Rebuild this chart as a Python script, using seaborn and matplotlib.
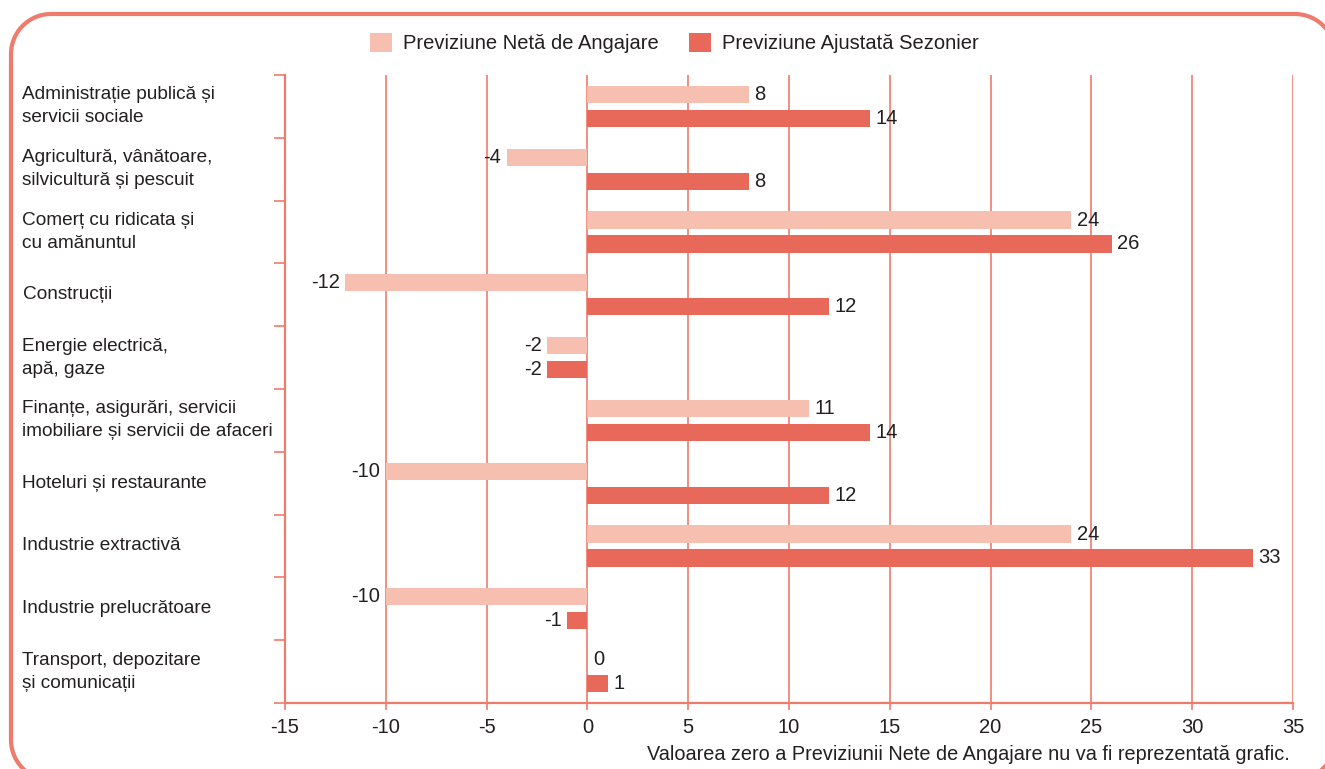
import matplotlib
matplotlib.use("Agg")
import matplotlib.pyplot as plt
from matplotlib.lines import Line2D
from matplotlib.transforms import IdentityTransform
import seaborn as sns
import pandas as pd
import numpy as np

# ===== Data =====
categories = [
    "Administrație publică și\nservicii sociale",
    "Agricultură, vânătoare,\nsilvicultură și pescuit",
    "Comerț cu ridicata și\ncu amănuntul",
    "Construcții",
    "Energie electrică,\napă, gaze",
    "Finanțe, asigurări, servicii\nimobiliare și servicii de afaceri",
    "Hoteluri și restaurante",
    "Industrie extractivă",
    "Industrie prelucrătoare",
    "Transport, depozitare\nși comunicații",
]
neta = [8, -4, 24, -12, -2, 11, -10, 24, -10, 0]
ajustata = [14, 8, 26, 12, -2, 14, 12, 33, -1, 1]
series_names = ["Previziune Netă de Angajare", "Previziune Ajustată Sezonier"]
x_ticks = [-15, -10, -5, 0, 5, 10, 15, 20, 25, 30, 35]
footnote = "Valoarea zero a Previziunii Nete de Angajare nu va fi reprezentată grafic."

# long table for seaborn
df = pd.DataFrame({
    "cat": categories * 2,
    "val": neta + ajustata,
    "serie": [series_names[0]] * len(categories) + [series_names[1]] * len(categories),
})

light = "#f6bfb0"
dark = "#e8695a"
line_col = "#ee7b6c"
txt = "#231f20"

sns.set_style("white")
plt.rcParams["font.family"] = ["Liberation Sans", "DejaVu Sans"]
plt.rcParams["text.color"] = txt

W, H = 1325, 769
fig = plt.figure(figsize=(W / 100, H / 100), dpi=100)

# rounded frame, drawn in display pixels (y up), partly off the canvas
x0, x1, top, bot, rad = 11, 1335, H - 14, H - 780, 40
pts = []
for cx, cy, a0 in [(x1 - rad, top - rad, 0), (x0 + rad, top - rad, 90),
                   (x0 + rad, bot + rad, 180), (x1 - rad, bot + rad, 270)]:
    a = np.radians(np.linspace(a0, a0 + 90, 20))
    pts += [(cx + rad * np.cos(t), cy + rad * np.sin(t)) for t in a]
pts.append(pts[0])
px, py = zip(*pts)
fig.lines.append(Line2D(px, py, transform=IdentityTransform(), color=line_col,
                        linewidth=3, solid_joinstyle="round"))

ax = fig.add_axes([285 / W, 1 - 703 / H, (1293 - 285) / W, (703 - 75) / H])
ax.patch.set_alpha(0)

sns.barplot(data=df, y="cat", x="val", hue="serie", orient="h",
            palette=[light, dark], saturation=1, linewidth=0,
            width=0.76, gap=0.28, ax=ax, zorder=3)

for cont in ax.containers:
    ax.bar_label(cont, fmt="%d", padding=4, fontsize=14.5, color=txt)

ax.set_xlim(-15, 35)
ax.set_ylim(9.5, -0.5)
ax.set_xticks(x_ticks)
ax.set_xticklabels([str(t) for t in x_ticks], fontsize=14.5, color=txt)
ax.tick_params(axis="x", bottom=True, length=5, width=1.2, color=line_col, pad=6)

# category boundaries as major ticks, labels on minor ticks
ax.set_yticks(np.arange(-0.5, 10, 1))
ax.set_yticklabels([])
ax.tick_params(axis="y", which="major", left=True, length=8, width=1.2, color=line_col)
ax.set_yticks(np.arange(len(categories)), minor=True)
ax.set_yticklabels(categories, minor=True, fontsize=13.7, color=txt, ha="left",
                   va="center", linespacing=1.45)
ax.tick_params(axis="y", which="minor", length=0, pad=189)

ax.set_xlabel("")
ax.set_ylabel("")
ax.grid(axis="x", color=line_col, linewidth=1.2, zorder=0)
ax.set_axisbelow(True)
for s in ["top", "right"]:
    ax.spines[s].set_visible(False)
for s in ["left", "bottom"]:
    ax.spines[s].set_color(line_col)
    ax.spines[s].set_linewidth(1.6)

handles, labels = ax.get_legend_handles_labels()
ax.legend(handles, labels, loc="center", bbox_to_anchor=(0.509, 1 - 43 / H),
          bbox_transform=fig.transFigure, ncol=2, frameon=False, fontsize=14.5,
          handlelength=1.1, handleheight=1.1, handletextpad=0.55, columnspacing=1.5)

fig.text(1290 / W, 1 - 755 / H, footnote, ha="right", va="center",
         fontsize=14.3, color=txt)

fig.savefig("out.png", dpi=100)
